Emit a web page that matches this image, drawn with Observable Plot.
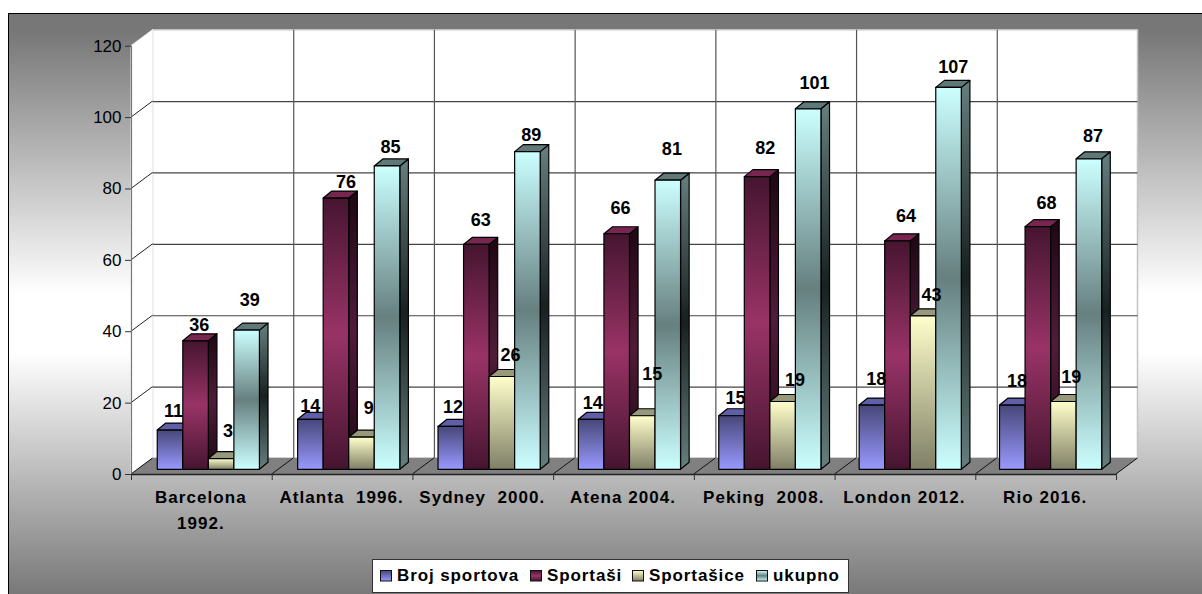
<!DOCTYPE html>
<html>
<head>
<meta charset="utf-8">
<script src="https://cdn.jsdelivr.net/npm/d3@7"></script>
<script src="https://cdn.jsdelivr.net/npm/@observablehq/plot@0.6"></script>
<style>
html,body{margin:0;padding:0;background:#fff;overflow:hidden}
#wrap{position:relative;width:1202px;height:594px;overflow:hidden;font-family:"Liberation Sans",Arial,sans-serif}
#bg{position:absolute;left:7.5px;top:13px;right:-4px;bottom:-4px;box-sizing:border-box;border:1.5px solid #000;
 background:linear-gradient(to bottom,#777 0,#777 3%,#fff 48%,#fff 58%,#777 100%)}
#chart{position:absolute;left:0;top:0}
#legend{position:absolute;left:372px;top:559px;width:477px;height:34px;box-sizing:border-box;background:#fff;border:1px solid #333;
 font-weight:bold;font-size:17px;letter-spacing:0.9px;color:#000}
.it{position:absolute;top:6px;display:flex;align-items:center;height:20px;white-space:nowrap}
.it svg{margin-right:5px;display:block}
</style>
</head>
<body>
<div id="wrap"><div id="bg"></div><div id="chart"></div><div id="legend"></div></div>
<script>
const categories = ["Barcelona\n1992.", "Atlanta\u00a0\u00a01996.", "Sydney\u00a0\u00a02000.", "Atena 2004.", "Peking\u00a0\u00a02008.", "London 2012.", "Rio 2016."];
const seriesNames = ["Broj sportova", "Sportaši", "Sportašice", "ukupno"];
const brojSportova = [11, 14, 12, 14, 15, 18, 18];
const sportasi = [36, 76, 63, 66, 82, 64, 68];
const sportasice = [3, 9, 26, 15, 19, 43, 19];
const ukupno = [39, 85, 89, 81, 101, 107, 87];
const yTicks = [0, 20, 40, 60, 80, 100, 120];

// label nudges relative to each bar's top centre, one row per series
const labelDx = [[3,-1,1,0,2,2,2],[3,9,3,2,6,6,6],[6,6,7,8,10,6,5],[2,2,2,2,4,2,1]];
const labelDy = [[-19,-14,-20,-17,-18,-26,-24],[-16,-16,-25,-26,-29,-25,-24],[-28,-29,-22,-42,-22,-21,-25],[-30,-19,-17,-31,-26,-21,-23]];

const seriesValues = [brojSportova, sportasi, sportasice, ukupno];
const looks = [
  {id:"blue", front:[["0%","#47477a"],["100%","#9999ff"]], side:[["0%","#24244a"],["100%","#4a4a88"]], top:"#5f5fa8"},
  {id:"maroon", front:[["0%","#461530"],["50%","#993366"],["100%","#461530"]], side:[["0%","#1e0714"],["50%","#501c3a"],["100%","#1e0714"]], top:"#76264f"},
  {id:"cream", front:[["0%","#ffffcc"],["100%","#7f7f66"]], side:[["0%","#77775c"],["100%","#44443a"]], top:"#98987a"},
  {id:"cyan", front:[["0%","#ccffff"],["50%","#667f7f"],["100%","#ccffff"]], side:[["0%","#667f7f"],["50%","#182020"],["100%","#667f7f"]], top:"#5f7878"}
];
const wallDx = 21.5, wallDy = -16;        // depth of the floor
const barDx = 6, barDy = -4.7;            // bars stand mid-way on the floor
const depthDx = 8.6, depthDy = -7;        // depth of a bar
const firstBar = 0.144, barWidth = 0.1815, groupStep = 0.9976, labelStep = 0.1827;

const poly = (g, pts, fill, stroke = "#000", sw = 1.2) =>
  g.append("polygon").attr("points", pts.map(p => p.join(",")).join(" ")).attr("fill", fill).attr("stroke", stroke).attr("stroke-width", sw).attr("stroke-linejoin","round");

function defs() {
  const d = d3.create("svg:defs");
  for (const l of looks) for (const part of ["front", "side"]) {
    const g = d.append("linearGradient").attr("id", l.id + part).attr("x1", 0).attr("y1", 0).attr("x2", 0).attr("y2", 1);
    for (const [o, c] of l[part]) g.append("stop").attr("offset", o).attr("stop-color", c);
  }
  return d.node();
}

function room(index, scales) {
  const {x, y} = scales;
  const g = d3.create("svg:g");
  const x0 = x(0), x7 = x(7), y0 = y(0), yT = y(120);
  poly(g, [[x0+wallDx, yT+wallDy],[x7+wallDx, yT+wallDy],[x7+wallDx, y0+wallDy],[x0+wallDx, y0+wallDy]], "#fff", "#c4c4c4", 1.5);
  poly(g, [[x0, yT],[x0+wallDx, yT+wallDy],[x0+wallDx, y0+wallDy],[x0, y0]], "#fff", "#f0f0f0", 1);
  poly(g, [[x0, y0],[x7, y0],[x7+wallDx, y0+wallDy],[x0+wallDx, y0+wallDy]], "#808080", "none", 0);
  for (const t of yTicks.filter(t => t > 0 && t < 120))
    g.append("line").attr("x1", x0).attr("y1", y(t)).attr("x2", x0+wallDx).attr("y2", y(t)+wallDy).attr("stroke", "#222");
  for (const k of d3.range(8))
    g.append("line").attr("x1", x(k)).attr("y1", y0).attr("x2", x(k)+wallDx).attr("y2", y0+wallDy).attr("stroke", "#111");
  return g.node();
}

function prism(look) {
  return (index, scales, v) => {
    const g = d3.create("svg:g");
    for (const i of index) {
      const l = v.x1[i] + barDx, r = v.x2[i] + barDx, b = v.y1[i] + barDy, t = v.y2[i] + barDy;
      poly(g, [[r,b],[r+depthDx,b+depthDy],[r+depthDx,t+depthDy],[r,t]], `url(#${look.id}side)`);
      poly(g, [[l,t],[l+depthDx,t+depthDy],[r+depthDx,t+depthDy],[r,t]], look.top);
      poly(g, [[l,t],[r,t],[r,b],[l,b]], `url(#${look.id}front)`);
    }
    return g.node();
  };
}

const barMarks = seriesValues.map((vals, s) => {
  const rows = vals.map((v, k) => ({k, v}));
  return Plot.rect(rows, {
    x1: d => d.k * groupStep + firstBar + s * barWidth,
    x2: d => d.k * groupStep + firstBar + (s + 1) * barWidth,
    y1: () => 0,
    y2: d => d.v,
    render: prism(looks[s])
  });
});

const labelMarks = seriesValues.flatMap((vals, s) => vals.map((v, k) =>
  Plot.text([{k, v}], {
    x: d => d.k + firstBar + (s + 0.5) * labelStep,
    y: d => d.v,
    text: d => String(d.v),
    dx: barDx + labelDx[s][k],
    dy: barDy + labelDy[s][k],
    fontSize: 18, fontWeight: "bold", fill: "#000", lineAnchor: "middle"
  })));

const chart = Plot.plot({
  width: 1202, height: 594,
  marginLeft: 131, marginRight: 86, marginTop: 45.7, marginBottom: 120,
  style: {background: "transparent", fontFamily: "'Liberation Sans',Arial,sans-serif", color: "#000", overflow: "visible"},
  x: {domain: [0, 7]},
  y: {domain: [0, 120]},
  marks: [
    defs,
    Plot.rect([0], {x1: () => 0, x2: () => 7, y1: () => 0, y2: () => 120, render: room}),
    Plot.ruleY(yTicks.filter(t => t > 0 && t < 120), {x1: () => 0, x2: () => 7, dx: wallDx, dy: wallDy, stroke: "#444", strokeWidth: 1.2}),
    Plot.ruleX(d3.range(1, 7), {y1: () => 0, y2: () => 120, dx: wallDx, dy: wallDy, stroke: "#555", strokeWidth: 1.2}),
    ...barMarks,
    Plot.ruleX([0], {y1: () => 0, y2: () => 120, stroke: "#777", strokeWidth: 1.2}),
    Plot.ruleY([0], {x1: () => 0, x2: () => 7, stroke: "#222", strokeWidth: 1.5}),
    Plot.axisY({ticks: yTicks, tickSize: 6, tickPadding: 4, fontSize: 17, label: null, stroke: "#333", fill: "#000"}),
    Plot.axisX({ticks: d3.range(8), tickSize: 6, tickFormat: () => "", label: null, stroke: "#333"}),
    Plot.text(categories, {
      x: (d, i) => i + 0.5, y: () => 0, text: d => d, lineAnchor: "top", dy: 11, dx: -1,
      lineHeight: 1.48, fontSize: 17, fontWeight: "bold", fill: "#000"
    }),
    ...labelMarks
  ]
});
document.getElementById("chart").append(chart);

// category labels are slightly spaced out in the reference
d3.select(chart).selectAll('g[aria-label="text"]').filter(function(){ return this.getAttribute("font-size") === "17"; }).style("letter-spacing", "1.05px");

const legendLeft = [7, 157, 259, 383];
const legend = d3.select("#legend");
seriesNames.forEach((n, s) => {
  const it = legend.append("div").attr("class", "it").style("left", legendLeft[s] + "px");
  const sv = it.append("svg").attr("width", 12).attr("height", 12);
  sv.append("rect").attr("x", .5).attr("y", .5).attr("width", 11).attr("height", 10.5)
    .attr("fill", `url(#${looks[s].id}front)`).attr("stroke", "#111");
  it.append("span").text(n);
});
</script>
</body>
</html>
